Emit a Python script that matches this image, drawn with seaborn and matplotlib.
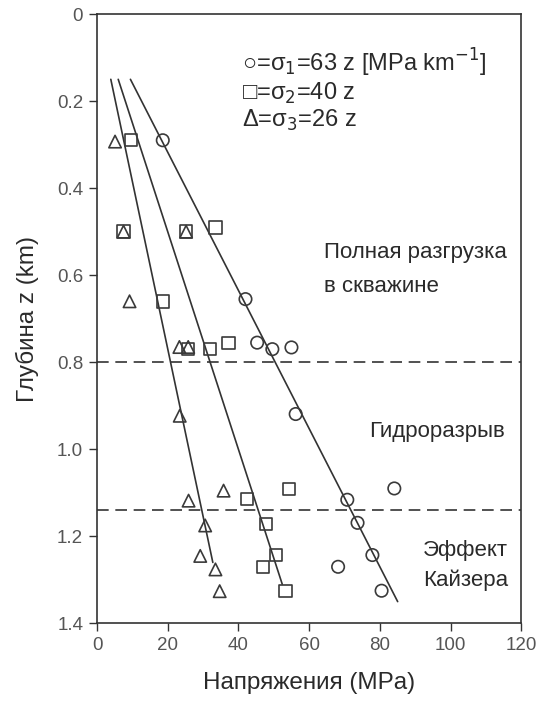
import numpy as np
import pandas as pd
import matplotlib
matplotlib.use("Agg")
import matplotlib.pyplot as plt
import seaborn as sns

# measured stresses (MPa) vs depth (km)
s1_x = [18.6, 42.0, 45.3, 49.6, 55.0, 56.2, 84.1, 70.8, 73.7, 77.9, 68.2, 80.5]
s1_z = [0.29, 0.655, 0.755, 0.77, 0.766, 0.919, 1.09, 1.116, 1.169, 1.243, 1.27, 1.325]

s2_x = [9.6, 7.5, 25.2, 33.5, 18.6, 25.8, 32.0, 37.2, 54.3, 42.5, 47.8, 50.6, 47.0, 53.3]
s2_z = [0.29, 0.50, 0.50, 0.49, 0.66, 0.77, 0.77, 0.756, 1.091, 1.114, 1.172, 1.243, 1.27, 1.325]

s3_x = [5.1, 7.5, 25.2, 9.2, 23.3, 25.8, 23.4, 35.8, 25.9, 30.6, 29.2, 33.5, 34.7]
s3_z = [0.293, 0.50, 0.50, 0.66, 0.765, 0.765, 0.923, 1.095, 1.118, 1.175, 1.245, 1.276, 1.326]

# fitted gradients (MPa/km) and depth range of fit lines
gradients = [63, 40, 26]
fit_top = [0.15, 0.15, 0.15]
fit_bottom = [1.35, 1.31, 1.26]

boundaries = [0.8, 1.14]

legend_lines = ["○=σ$_1$=63 z [MPa km$^{-1}$]", "□=σ$_2$=40 z", "Δ=σ$_3$=26 z"]
legend_z = [0.113, 0.183, 0.244]

sns.set_style("ticks")
plt.rcParams["font.family"] = ["Liberation Sans", "DejaVu Sans"]

fig = plt.figure(figsize=(5.39, 7.02), dpi=100)
ax = fig.add_axes([0.180, 0.112, 0.787, 0.868])

dark = "#2a2a2a"
mk = dict(facecolor="none", edgecolor="#3a3a3a", linewidth=1.2, s=80, zorder=3)

df1 = pd.DataFrame({"x": s1_x, "z": s1_z})
df2 = pd.DataFrame({"x": s2_x, "z": s2_z})
df3 = pd.DataFrame({"x": s3_x, "z": s3_z})
sns.scatterplot(data=df1, x="x", y="z", marker="o", ax=ax, **mk)
sns.scatterplot(data=df2, x="x", y="z", marker="s", ax=ax, **mk)
sns.scatterplot(data=df3, x="x", y="z", marker="^", ax=ax, **mk)

for g, z0, z1 in zip(gradients, fit_top, fit_bottom):
    zz = np.array([z0, z1])
    sns.lineplot(x=g * zz, y=zz, color="#333333", lw=1.2, ax=ax, zorder=2)

for b in boundaries:
    ax.axhline(b, color="#333333", lw=1.2, ls=(0, (7, 4)), zorder=1)

ax.set_xlim(0, 120)
ax.set_ylim(1.4, 0)
ax.set_xticks(range(0, 121, 20))
ax.set_yticks([0, 0.2, 0.4, 0.6, 0.8, 1.0, 1.2, 1.4])
ax.set_yticklabels(["0", "0.2", "0.4", "0.6", "0.8", "1.0", "1.2", "1.4"])
ax.tick_params(direction="out", length=6, width=1, colors="#333333",
               labelcolor="#555555", labelsize=13.5)
ax.tick_params(axis="y", pad=4)
for sp in ax.spines.values():
    sp.set_color("#333333")
    sp.set_linewidth(1.2)

ax.set_xlabel("Напряжения (MPa)", fontsize=17.5, color=dark, labelpad=13)
ax.set_ylabel("Глубина z (km)", fontsize=17.5, color=dark, labelpad=13)

for txt, z in zip(legend_lines, legend_z):
    ax.text(41.1, z, txt, fontsize=17, color=dark, va="center", ha="left")

tk = dict(fontsize=16, color=dark, va="center", ha="left")
ax.text(64.1, 0.548, "Полная разгрузка", **tk)
ax.text(64.1, 0.626, "в скважине", **tk)
ax.text(76.9, 0.960, "Гидроразрыв", **tk)
ax.text(92.2, 1.233, "Эффект", **tk)
ax.text(92.2, 1.300, "Кайзера", **tk)

fig.savefig("out.png", dpi=100)
